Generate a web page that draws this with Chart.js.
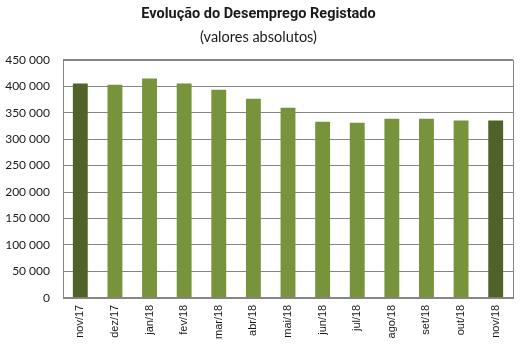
<!DOCTYPE html>
<html>
<head>
<meta charset="utf-8">
<script src="https://cdn.jsdelivr.net/npm/chart.js@4"></script>
<style>
  html, body { margin: 0; padding: 0; background: #fff; }
  #wrap { width: 529px; height: 347px; }
</style>
</head>
<body>
<div id="wrap"><canvas id="c" width="529" height="347"></canvas></div>
<script>
// Desemprego registado, valores absolutos
const months = ['nov/17','dez/17','jan/18','fev/18','mar/18','abr/18','mai/18','jun/18','jul/18','ago/18','set/18','out/18','nov/18'];
const unemployed = [405000, 403000, 414500, 405000, 393500, 376500, 359500, 333000, 331000, 338500, 338500, 335000, 335000];
const yTicks = [0, 50000, 100000, 150000, 200000, 250000, 300000, 350000, 400000, 450000];

const light = '#77933C';
const dark = '#4F6228';
const barColors = months.map((m, i) => (i === 0 || i === months.length - 1) ? dark : light);

const fmt = v => String(v).replace(/\B(?=(\d{3})+(?!\d))/g, ' ');

const frame = {
  id: 'frame',
  afterDraw(chart) {
    const a = chart.chartArea, ctx = chart.ctx;
    ctx.save();
    ctx.strokeStyle = '#868686';
    ctx.lineWidth = 1;
    ctx.strokeRect(Math.round(a.left) + 0.5, Math.round(a.top) + 0.5, Math.round(a.right - a.left), Math.round(a.bottom - a.top));
    ctx.restore();
  }
};

new Chart(document.getElementById('c'), {
  type: 'bar',
  data: {
    labels: months,
    datasets: [{
      data: unemployed,
      backgroundColor: barColors,
      borderWidth: 0,
      barPercentage: 0.86,
      categoryPercentage: 0.5
    }]
  },
  options: {
    responsive: false,
    animation: false,
    layout: { padding: { left: 4, right: 16, top: 4, bottom: 1 } },
    plugins: {
      legend: { display: false },
      tooltip: { enabled: false },
      title: {
        display: true,
        text: 'Evolução do Desemprego Registado',
        color: '#1a1a1a',
        font: { family: 'Roboto, sans-serif', size: 14.5, weight: 'bold' },
        padding: { top: 2, bottom: 3 }
      },
      subtitle: {
        display: true,
        text: '(valores absolutos)',
        color: '#1a1a1a',
        font: { family: 'Lato, sans-serif', size: 14.5 },
        padding: { top: 2, bottom: 14 }
      }
    },
    scales: {
      y: {
        min: 0,
        max: 450000,
        afterBuildTicks(axis) { axis.ticks = yTicks.map(v => ({ value: v })); },
        afterFit(axis) { axis.width = 59; },
        grid: { color: '#868686', drawTicks: false },
        border: { display: false },
        ticks: {
          color: '#1a1a1a',
          padding: 13,
          font: { family: 'Lato, sans-serif', size: 12 },
          callback: v => fmt(v)
        }
      },
      x: {
        grid: { display: false, drawTicks: false },
        border: { display: false },
        ticks: {
          color: '#1a1a1a',
          minRotation: 90,
          maxRotation: 90,
          padding: 7,
          font: { family: '"Liberation Sans", Arial, sans-serif', size: 11 }
        }
      }
    }
  },
  plugins: [frame]
});
</script>
</body>
</html>
